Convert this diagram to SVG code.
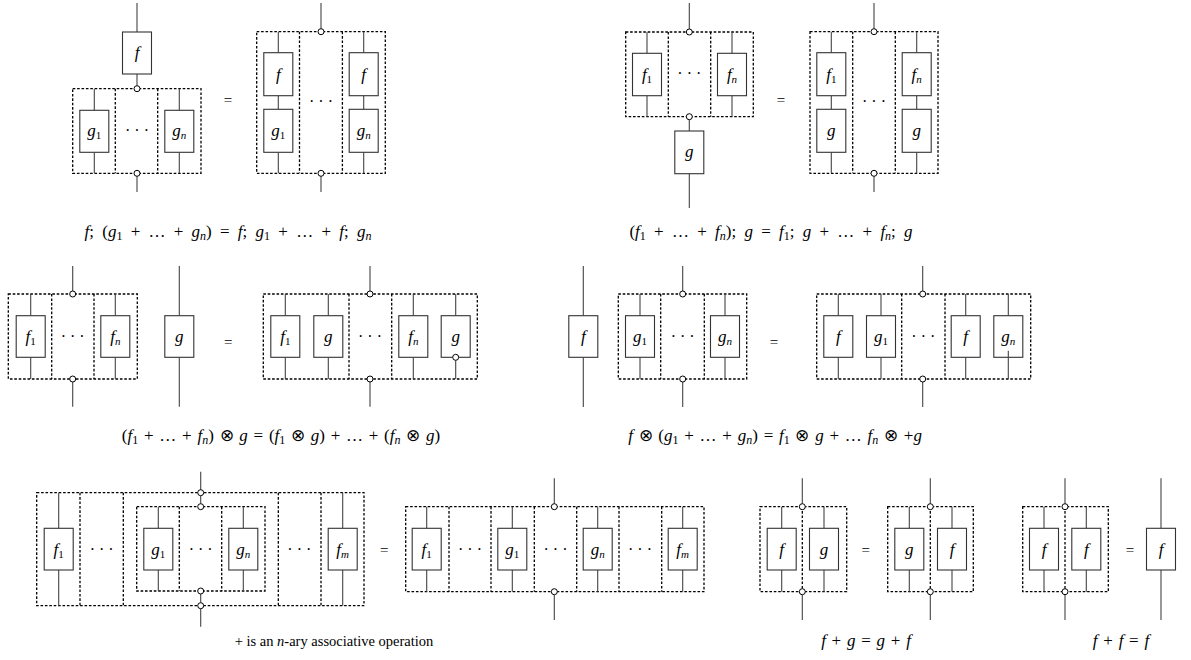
<svg xmlns="http://www.w3.org/2000/svg" width="1191" height="660" viewBox="0 0 1191 660">
<style>
.d{fill:none;stroke:#000;stroke-width:1.3;stroke-dasharray:2.6 1.8}
.b{fill:#fff;stroke:#333;stroke-width:1.1}
.w{stroke:#444;stroke-width:1.1;fill:none}
.c{fill:#fff;stroke:#000;stroke-width:1}
text{font-family:"Liberation Serif",serif;fill:#000}
.l{font-size:17px;font-style:italic;text-anchor:middle}
.s{font-size:11px;font-style:normal}
.si{font-size:11px;font-style:italic}
.cap{font-size:17px;text-anchor:middle;word-spacing:1.5px}
.wide{word-spacing:4px}
.cap .s,.cap .si{font-size:12px}
.txt{font-size:14.5px;text-anchor:middle}
.i{font-style:italic}
.dt{font-size:16px;text-anchor:middle}
.eq{font-size:15px;text-anchor:middle}
</style>
<rect width="1191" height="660" fill="#fff"/>

<!-- Top-left LHS -->
<g id="tl-lhs">
<rect class="d" x="72.7" y="88.7" width="128.3" height="84.6"/>
<path class="d" d="M115.3 88.7V173.3M157.7 88.7V173.3"/>
<path class="w" d="M137 3V32M137 74V85.7M137 176.3V192M94.3 88.7V110.3M94.3 152.3V173.3M179.3 88.7V110.3M179.3 152.3V173.3"/>
<rect class="b" x="122.5" y="32" width="29" height="42"/>
<rect class="b" x="79.8" y="110.3" width="29" height="42"/>
<rect class="b" x="164.8" y="110.3" width="29" height="42"/>
<text class="l" x="137" y="58">f</text>
<text class="l" x="94.3" y="136">g<tspan class="s" dy="3">1</tspan></text>
<text class="l" x="179.3" y="136">g<tspan class="si" dy="3">n</tspan></text>
<text class="dt" x="137" y="136">· · ·</text>
<circle class="c" cx="137" cy="88.7" r="3"/>
<circle class="c" cx="137" cy="173.3" r="3"/>
</g>
<text class="eq" x="228" y="105">=</text>

<!-- Top-left RHS -->
<g id="tl-rhs">
<rect class="d" x="256.7" y="31.7" width="128.6" height="141.6"/>
<path class="d" d="M299.5 31.7V173.3M342.4 31.7V173.3"/>
<path class="w" d="M321 3V28.7M321 176.3V192M278.3 31.7V52.7M278.3 95.7V109.3M278.3 152.3V173.3M363.7 31.7V52.7M363.7 95.7V109.3M363.7 152.3V173.3"/>
<rect class="b" x="263.8" y="52.7" width="29" height="43"/>
<rect class="b" x="263.8" y="109.3" width="29" height="43"/>
<rect class="b" x="349.2" y="52.7" width="29" height="43"/>
<rect class="b" x="349.2" y="109.3" width="29" height="43"/>
<text class="l" x="278.3" y="79.5">f</text>
<text class="l" x="278.3" y="136">g<tspan class="s" dy="3">1</tspan></text>
<text class="l" x="363.7" y="79.5">f</text>
<text class="l" x="363.7" y="136">g<tspan class="si" dy="3">n</tspan></text>
<text class="dt" x="321" y="106.5">· · ·</text>
<circle class="c" cx="321" cy="31.7" r="3"/>
<circle class="c" cx="321" cy="173.3" r="3"/>
</g>

<!-- Top-right LHS -->
<g id="tr-lhs">
<rect class="d" x="625.7" y="32" width="127.6" height="84.7"/>
<path class="d" d="M668.3 32V116.7M710.7 32V116.7"/>
<path class="w" d="M689.3 3V29M647 32V53.3M647 95.7V116.7M732 32V53.3M732 95.7V116.7M689.3 119.7V131M689.3 173.7V208"/>
<rect class="b" x="632.5" y="53.3" width="29" height="42.4"/>
<rect class="b" x="717.5" y="53.3" width="29" height="42.4"/>
<rect class="b" x="674.8" y="131" width="29" height="42.7"/>
<text class="l" x="647" y="80">f<tspan class="s" dy="3">1</tspan></text>
<text class="l" x="732" y="80">f<tspan class="si" dy="3">n</tspan></text>
<text class="l" x="689.3" y="157">g</text>
<text class="dt" x="689.3" y="79">· · ·</text>
<circle class="c" cx="689.3" cy="32" r="3"/>
<circle class="c" cx="689.3" cy="116.7" r="3"/>
</g>
<text class="eq" x="781" y="105">=</text>

<!-- Top-right RHS -->
<g id="tr-rhs">
<rect class="d" x="810" y="31.7" width="128" height="141.6"/>
<path class="d" d="M852.7 31.7V173.3M895.3 31.7V173.3"/>
<path class="w" d="M874 3V28.7M874 176.3V192M831.3 31.7V52.7M831.3 95.7V109.3M831.3 152.3V173.3M916.7 31.7V52.7M916.7 95.7V109.3M916.7 152.3V173.3"/>
<rect class="b" x="816.8" y="52.7" width="29" height="43"/>
<rect class="b" x="816.8" y="109.3" width="29" height="43"/>
<rect class="b" x="902.2" y="52.7" width="29" height="43"/>
<rect class="b" x="902.2" y="109.3" width="29" height="43"/>
<text class="l" x="831.3" y="79.5">f<tspan class="s" dy="3">1</tspan></text>
<text class="l" x="831.3" y="136">g</text>
<text class="l" x="916.7" y="79.5">f<tspan class="si" dy="3">n</tspan></text>
<text class="l" x="916.7" y="136">g</text>
<text class="dt" x="874" y="106.5">· · ·</text>
<circle class="c" cx="874" cy="31.7" r="3"/>
<circle class="c" cx="874" cy="173.3" r="3"/>
</g>

<text class="cap wide" x="228" y="237"><tspan class="i">f</tspan>; (<tspan class="i">g</tspan><tspan class="s" dy="3">1</tspan><tspan dy="-3"> + … + </tspan><tspan class="i">g</tspan><tspan class="si" dy="3">n</tspan><tspan dy="-3">) = </tspan><tspan class="i">f</tspan>; <tspan class="i">g</tspan><tspan class="s" dy="3">1</tspan><tspan dy="-3"> + … + </tspan><tspan class="i">f</tspan>; <tspan class="i">g</tspan><tspan class="si" dy="3">n</tspan></text>
<text class="cap wide" x="771" y="237">(<tspan class="i">f</tspan><tspan class="s" dy="3">1</tspan><tspan dy="-3"> + … + </tspan><tspan class="i">f</tspan><tspan class="si" dy="3">n</tspan><tspan dy="-3">); </tspan><tspan class="i">g</tspan> = <tspan class="i">f</tspan><tspan class="s" dy="3">1</tspan><tspan dy="-3">; </tspan><tspan class="i">g</tspan> + … + <tspan class="i">f</tspan><tspan class="si" dy="3">n</tspan><tspan dy="-3">; </tspan><tspan class="i">g</tspan></text>

<!-- Mid-left LHS -->
<g id="ml-lhs">
<rect class="d" x="8.3" y="294" width="129" height="85"/>
<path class="d" d="M51.7 294V379M94 294V379"/>
<path class="w" d="M72.7 266V291M72.7 382V406.7M30.7 294V315.7M30.7 357.3V379M115.3 294V315.7M115.3 357.3V379"/>
<rect class="b" x="16.2" y="315.7" width="29" height="41.6"/>
<rect class="b" x="100.8" y="315.7" width="29" height="41.6"/>
<text class="l" x="30.7" y="342">f<tspan class="s" dy="3">1</tspan></text>
<text class="l" x="115.3" y="342">f<tspan class="si" dy="3">n</tspan></text>
<text class="dt" x="72.7" y="342">· · ·</text>
<circle class="c" cx="72.7" cy="294" r="3"/>
<circle class="c" cx="72.7" cy="379" r="3"/>
</g>
<g id="ml-g">
<path class="w" d="M179.3 266V315.7M179.3 357.3V406.7"/>
<rect class="b" x="164.8" y="315.7" width="29" height="41.6"/>
<text class="l" x="179.3" y="342">g</text>
</g>
<text class="eq" x="228.3" y="347">=</text>

<!-- Mid-left RHS -->
<g id="ml-rhs">
<rect class="d" x="263.3" y="294" width="214" height="85"/>
<path class="d" d="M349 294V379M391.7 294V379"/>
<path class="w" d="M370 266V291M370 382V406.7M285.3 294V315.7M285.3 357.3V379M328.3 294V315.7M328.3 357.3V379M413.3 294V315.7M413.3 357.3V379M455.7 294V315.7M455.7 360.3V379"/>
<rect class="b" x="270.8" y="315.7" width="29" height="41.6"/>
<rect class="b" x="313.8" y="315.7" width="29" height="41.6"/>
<rect class="b" x="398.8" y="315.7" width="29" height="41.6"/>
<rect class="b" x="441.2" y="315.7" width="29" height="41.6"/>
<text class="l" x="285.3" y="342">f<tspan class="s" dy="3">1</tspan></text>
<text class="l" x="328.3" y="342">g</text>
<text class="l" x="413.3" y="342">f<tspan class="si" dy="3">n</tspan></text>
<text class="l" x="455.7" y="342">g</text>
<text class="dt" x="370" y="342">· · ·</text>
<circle class="c" cx="370" cy="294" r="3"/>
<circle class="c" cx="370" cy="379" r="3"/>
<circle class="c" cx="455.7" cy="357.3" r="3"/>
</g>

<!-- Mid-right LHS -->
<g id="mr-f">
<path class="w" d="M583.3 266V315.7M583.3 357.3V407"/>
<rect class="b" x="568.8" y="315.7" width="29" height="41.6"/>
<text class="l" x="583.3" y="342">f</text>
</g>
<g id="mr-lhs">
<rect class="d" x="618.3" y="294" width="128.4" height="85"/>
<path class="d" d="M660.7 294V379M704.3 294V379"/>
<path class="w" d="M682.7 266V291M682.7 382V407M640 294V315.7M640 357.3V379M725 294V315.7M725 357.3V379"/>
<rect class="b" x="625.5" y="315.7" width="29" height="41.6"/>
<rect class="b" x="710.5" y="315.7" width="29" height="41.6"/>
<text class="l" x="640" y="342">g<tspan class="s" dy="3">1</tspan></text>
<text class="l" x="725" y="342">g<tspan class="si" dy="3">n</tspan></text>
<text class="dt" x="682.7" y="342">· · ·</text>
<circle class="c" cx="682.7" cy="294" r="3"/>
<circle class="c" cx="682.7" cy="379" r="3"/>
</g>
<text class="eq" x="774" y="347">=</text>

<!-- Mid-right RHS -->
<g id="mr-rhs">
<rect class="d" x="816.7" y="294" width="214" height="85"/>
<path class="d" d="M901.7 294V379M945 294V379"/>
<path class="w" d="M922.7 266V291M922.7 382V407M838.3 294V315.7M838.3 357.3V379M881 294V315.7M881 357.3V379M965.7 294V315.7M965.7 357.3V379M1008.3 294V315.7"/>
<rect class="b" x="823.8" y="315.7" width="29" height="41.6"/>
<rect class="b" x="866.5" y="315.7" width="29" height="41.6"/>
<rect class="b" x="951.2" y="315.7" width="29" height="41.6"/>
<rect class="b" x="993.8" y="315.7" width="29" height="41.6"/>
<path class="w" d="M1008.3 350.7V379"/>
<text class="l" x="838.3" y="342">f</text>
<text class="l" x="881" y="342">g<tspan class="s" dy="3">1</tspan></text>
<text class="l" x="965.7" y="342">f</text>
<text class="l" x="1008.3" y="342">g<tspan class="si" dy="3">n</tspan></text>
<text class="dt" x="923.3" y="342">· · ·</text>
<circle class="c" cx="922.7" cy="294" r="3"/>
<circle class="c" cx="922.7" cy="379" r="3"/>
</g>

<text class="cap" x="281" y="441">(<tspan class="i">f</tspan><tspan class="s" dy="3">1</tspan><tspan dy="-3"> + … + </tspan><tspan class="i">f</tspan><tspan class="si" dy="3">n</tspan><tspan dy="-3">) ⊗ </tspan><tspan class="i">g</tspan> = (<tspan class="i">f</tspan><tspan class="s" dy="3">1</tspan><tspan dy="-3"> ⊗ </tspan><tspan class="i">g</tspan>) + … + (<tspan class="i">f</tspan><tspan class="si" dy="3">n</tspan><tspan dy="-3"> ⊗ </tspan><tspan class="i">g</tspan>)</text>
<text class="cap" x="775" y="441"><tspan class="i">f</tspan> ⊗ (<tspan class="i">g</tspan><tspan class="s" dy="3">1</tspan><tspan dy="-3"> + … + </tspan><tspan class="i">g</tspan><tspan class="si" dy="3">n</tspan><tspan dy="-3">) = </tspan><tspan class="i">f</tspan><tspan class="s" dy="3">1</tspan><tspan dy="-3"> ⊗ </tspan><tspan class="i">g</tspan> + … <tspan class="i">f</tspan><tspan class="si" dy="3">n</tspan><tspan dy="-3"> ⊗ +</tspan><tspan class="i">g</tspan></text>

<!-- Bottom LHS (nested) -->
<g id="bl-lhs">
<rect class="d" x="36.7" y="492.7" width="327.3" height="113"/>
<path class="d" d="M80 492.7V605.7M123.3 492.7V605.7M278.3 492.7V605.7M321 492.7V605.7"/>
<rect class="d" x="136.7" y="506.7" width="128.3" height="84.3"/>
<path class="d" d="M179.3 506.7V591M221.7 506.7V591"/>
<path class="w" d="M200.7 471.7V489.7M200.7 495.7V503.7M200.7 594V602.7M200.7 608.7V626.7M58.7 492.7V528.3M58.7 570V605.7M342.7 492.7V528.3M342.7 570V605.7M158.3 506.7V528.3M158.3 570V591M243.3 506.7V528.3M243.3 570V591"/>
<rect class="b" x="44.2" y="528.3" width="29" height="41.7"/>
<rect class="b" x="143.8" y="528.3" width="29" height="41.7"/>
<rect class="b" x="228.8" y="528.3" width="29" height="41.7"/>
<rect class="b" x="328.2" y="528.3" width="29" height="41.7"/>
<text class="l" x="58.7" y="554.5">f<tspan class="s" dy="3">1</tspan></text>
<text class="l" x="158.3" y="554.5">g<tspan class="s" dy="3">1</tspan></text>
<text class="l" x="243.3" y="554.5">g<tspan class="si" dy="3">n</tspan></text>
<text class="l" x="342.7" y="554.5">f<tspan class="si" dy="3">m</tspan></text>
<text class="dt" x="101.7" y="554.5">· · ·</text>
<text class="dt" x="200.7" y="554.5">· · ·</text>
<text class="dt" x="299.3" y="554.5">· · ·</text>
<circle class="c" cx="200.7" cy="492.7" r="3"/>
<circle class="c" cx="200.7" cy="506.7" r="3"/>
<circle class="c" cx="200.7" cy="591" r="3"/>
<circle class="c" cx="200.7" cy="605.7" r="3"/>
</g>
<text class="eq" x="384.3" y="555">=</text>

<!-- Bottom RHS (flat) -->
<g id="bl-rhs">
<rect class="d" x="405.7" y="506.7" width="298.3" height="85"/>
<path class="d" d="M449 506.7V591.7M491 506.7V591.7M534.3 506.7V591.7M576.7 506.7V591.7M619 506.7V591.7M661.7 506.7V591.7"/>
<path class="w" d="M554.3 478.3V503.7M554.3 594.7V620M426.7 506.7V528.3M426.7 570V591.7M512.3 506.7V528.3M512.3 570V591.7M597.7 506.7V528.3M597.7 570V591.7M682.7 506.7V528.3M682.7 570V591.7"/>
<rect class="b" x="412.2" y="528.3" width="29" height="41.7"/>
<rect class="b" x="497.8" y="528.3" width="29" height="41.7"/>
<rect class="b" x="583.2" y="528.3" width="29" height="41.7"/>
<rect class="b" x="668.2" y="528.3" width="29" height="41.7"/>
<text class="l" x="426.7" y="554.5">f<tspan class="s" dy="3">1</tspan></text>
<text class="l" x="512.3" y="554.5">g<tspan class="s" dy="3">1</tspan></text>
<text class="l" x="597.7" y="554.5">g<tspan class="si" dy="3">n</tspan></text>
<text class="l" x="682.7" y="554.5">f<tspan class="si" dy="3">m</tspan></text>
<text class="dt" x="470" y="554.5">· · ·</text>
<text class="dt" x="555.5" y="554.5">· · ·</text>
<text class="dt" x="640" y="554.5">· · ·</text>
<circle class="c" cx="554.3" cy="506.7" r="3"/>
<circle class="c" cx="554.3" cy="591.7" r="3"/>
</g>
<text class="txt" x="334" y="646">+ is an <tspan class="i">n</tspan>-ary associative operation</text>

<!-- f + g -->
<g id="comm-lhs">
<rect class="d" x="760" y="506.7" width="86.7" height="85"/>
<path class="d" d="M802.3 506.7V591.7"/>
<path class="w" d="M802.3 478.3V503.7M802.3 594.7V620M781.7 506.7V528.3M781.7 570V591.7M824 506.7V528.3M824 570V591.7"/>
<rect class="b" x="767.2" y="528.3" width="29" height="41.7"/>
<rect class="b" x="809.5" y="528.3" width="29" height="41.7"/>
<text class="l" x="781.7" y="554.5">f</text>
<text class="l" x="824" y="554.5">g</text>
<circle class="c" cx="802.3" cy="506.7" r="3"/>
<circle class="c" cx="802.3" cy="591.7" r="3"/>
</g>
<text class="eq" x="865.7" y="555">=</text>
<g id="comm-rhs">
<rect class="d" x="887.7" y="506.7" width="85.6" height="85"/>
<path class="d" d="M930.3 506.7V591.7"/>
<path class="w" d="M930.3 478.3V503.7M930.3 594.7V620M909.3 506.7V528.3M909.3 570V591.7M952 506.7V528.3M952 570V591.7"/>
<rect class="b" x="894.8" y="528.3" width="29" height="41.7"/>
<rect class="b" x="937.5" y="528.3" width="29" height="41.7"/>
<text class="l" x="909.3" y="554.5">g</text>
<text class="l" x="952" y="554.5">f</text>
<circle class="c" cx="930.3" cy="506.7" r="3"/>
<circle class="c" cx="930.3" cy="591.7" r="3"/>
</g>
<text class="cap" x="866" y="646"><tspan class="i">f</tspan> + <tspan class="i">g</tspan> = <tspan class="i">g</tspan> + <tspan class="i">f</tspan></text>

<!-- f + f -->
<g id="idem-lhs">
<rect class="d" x="1022.7" y="506.7" width="85.6" height="85"/>
<path class="d" d="M1065 506.7V591.7"/>
<path class="w" d="M1065 478.3V503.7M1065 594.7V620M1044 506.7V528.3M1044 570V591.7M1086.3 506.7V528.3M1086.3 570V591.7"/>
<rect class="b" x="1029.5" y="528.3" width="29" height="41.7"/>
<rect class="b" x="1071.8" y="528.3" width="29" height="41.7"/>
<text class="l" x="1044" y="554.5">f</text>
<text class="l" x="1086.3" y="554.5">f</text>
<circle class="c" cx="1065" cy="506.7" r="3"/>
<circle class="c" cx="1065" cy="591.7" r="3"/>
</g>
<text class="eq" x="1130" y="555">=</text>
<g id="idem-rhs">
<path class="w" d="M1161 478.3V528.3M1161 570V620"/>
<rect class="b" x="1146.5" y="528.3" width="29" height="41.7"/>
<text class="l" x="1161" y="554.5">f</text>
</g>
<text class="cap" x="1121" y="646"><tspan class="i">f</tspan> + <tspan class="i">f</tspan> = <tspan class="i">f</tspan></text>
</svg>
